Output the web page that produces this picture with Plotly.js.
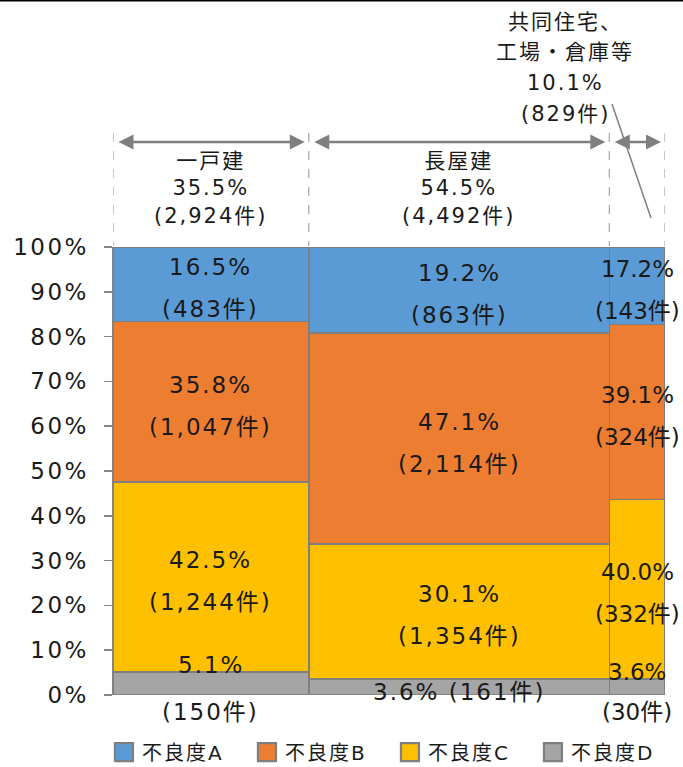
<!DOCTYPE html>
<html>
<head>
<meta charset="utf-8">
<script src="https://cdn.plot.ly/plotly-3.0.1.min.js"></script>
<style>
html,body{margin:0;padding:0;background:#fff;}
#chart{width:683px;height:767px;}
#chart svg text{letter-spacing:2px;}
#chart .ytick text{letter-spacing:2.5px;}
#chart .legendpoints path{transform:translate(22px,0) scale(1.5);}
</style>
</head>
<body>
<div id="chart"></div>
<script>
// ---- data ----
const buildings = ['一戸建', '長屋建', '共同住宅、<br>工場・倉庫等'];
const shares = [35.5, 54.5, 10.1];
const totals = [2924, 4492, 829];
const grades = ['不良度A', '不良度B', '不良度C', '不良度D'];
const pctA = [16.5, 19.2, 17.2];
const pctB = [35.8, 47.1, 39.1];
const pctC = [42.5, 30.1, 40.0];
const pctD = [5.1, 3.6, 3.6];
const cntA = [483, 863, 143];
const cntB = [1047, 2114, 324];
const cntC = [1244, 1354, 332];
const cntD = [150, 161, 30];
const yTicks = [0, 10, 20, 30, 40, 50, 60, 70, 80, 90, 100];

// ---- style ----
const colors = {'不良度A': '#5B9BD5', '不良度B': '#ED7D31', '不良度C': '#FFC000', '不良度D': '#A5A5A5'};
const FONT = 'DejaVu Sans, Noto Sans CJK JP, sans-serif';
const W = 683, H = 767;
const M = {l: 113, r: 18, t: 247, b: 72, autoexpand: false};
const plotH = H - M.t - M.b;
const plotW = W - M.l - M.r;
const py = p => (H - M.b - p) / plotH;          // pixel row -> paper y
const xTotal = shares.reduce((a, b) => a + b, 0);

const fmt = n => n.toLocaleString('en-US');

// x positions from shares
const lefts = [];
let acc = 0;
shares.forEach(s => { lefts.push(acc); acc += s; });
const centers = shares.map((s, i) => lefts[i] + s / 2);

// stacking order: bottom D, C, B, A
const stack = [
  {name: '不良度D', pct: pctD, cnt: cntD},
  {name: '不良度C', pct: pctC, cnt: cntC},
  {name: '不良度B', pct: pctB, cnt: cntB},
  {name: '不良度A', pct: pctA, cnt: cntA}
];

const traces = stack.map(s => ({
  type: 'bar',
  name: s.name,
  x: centers,
  y: s.pct,
  width: shares,
  marker: {color: colors[s.name], line: {color: '#7f7f7f', width: 1.5}},
  hoverinfo: 'skip'
}));

const annotations = [];
const tightIdx = [];   // narrow-column labels drawn without extra letter spacing
const lblFont = {family: FONT, size: 23, color: '#1a1a1a'};
const dInline = [false, true, false];
const bases = [0, 0, 0];
function addLabel(a, i) {
  if (i === shares.length - 1) tightIdx.push(annotations.length);
  annotations.push(a);
}
stack.forEach(s => {
  s.pct.forEach((v, i) => {
    const b = bases[i];
    const pctTxt = v.toFixed(1) + '%';
    const cntTxt = '(' + fmt(s.cnt[i]) + '件)';
    if (s.name === '不良度D') {
      if (dInline[i]) {
        addLabel({x: centers[i], y: b + v / 2, xref: 'x', yref: 'y', text: pctTxt + ' ' + cntTxt,
          showarrow: false, font: lblFont, yshift: -5}, i);
      } else {
        addLabel({x: centers[i], y: b + v, xref: 'x', yref: 'y', text: pctTxt,
          showarrow: false, font: lblFont, yshift: 7}, i);
        addLabel({x: centers[i], y: b, xref: 'x', yref: 'y', text: cntTxt,
          showarrow: false, font: lblFont, yshift: -17}, i);
      }
    } else {
      addLabel({x: centers[i], y: b + v / 2, xref: 'x', yref: 'y', text: pctTxt,
        showarrow: false, font: lblFont, yshift: 17}, i);
      addLabel({x: centers[i], y: b + v / 2, xref: 'x', yref: 'y', text: cntTxt,
        showarrow: false, font: lblFont, yshift: -25}, i);
    }
    bases[i] += v;
  });
});

// header labels
const hdrFont = {family: FONT, size: 21, color: '#1a1a1a'};
shares.forEach((s, i) => {
  const lines = buildings[i].split('<br>').concat([s.toFixed(1) + '%', '(' + fmt(totals[i]) + '件)']);
  if (i < 2) {
    annotations.push({x: centers[i], y: py(188), xref: 'x', yref: 'paper', text: lines.join('<br>'),
      showarrow: false, font: hdrFont, yanchor: 'middle'});
  } else {
    lines.forEach((t, k) => {
      annotations.push({x: (565 - M.l) / plotW * xTotal, y: py(22 + 30.5 * k), xref: 'x', yref: 'paper', text: t,
        showarrow: false, font: hdrFont, yanchor: 'middle'});
    });
  }
  // double-headed arrow spanning the column
  const inset = 4 / plotW * xTotal;
  annotations.push({x: lefts[i] + s - inset, y: py(142), xref: 'x', yref: 'paper',
    ax: lefts[i] + inset, ay: 0, axref: 'x', ayref: 'pixel', text: '', showarrow: true,
    arrowside: 'end+start', arrowhead: 2, arrowsize: 1.2, arrowwidth: 2.5, arrowcolor: '#7f7f7f'});
});

// dashed boundary lines
const shapes = [];
const bounds = lefts.concat([xTotal]);
bounds.forEach(bx => {
  shapes.push({type: 'line', xref: 'x', yref: 'paper', x0: bx, x1: bx, y0: py(133), y1: py(246),
    line: {color: '#a6a6a6', width: 1.2, dash: 'dash'}});
});
// leader line for the narrow column
shapes.push({type: 'line', xref: 'x', yref: 'paper',
  x0: (612 - M.l) / plotW * xTotal, y0: py(104), x1: (651 - M.l) / plotW * xTotal, y1: py(218),
  line: {color: '#7f7f7f', width: 1.5}});
// top rule
shapes.push({type: 'line', xref: 'paper', yref: 'paper', x0: -M.l / plotW, x1: 1 + M.r / plotW,
  y0: py(0.5), y1: py(0.5), line: {color: '#000', width: 2}});
// bottom axis line (0% tick extended across)
shapes.push({type: 'line', xref: 'paper', yref: 'y', x0: -8 / plotW, x1: 1, y0: 0, y1: 0,
  line: {color: '#868686', width: 1.5}});

const layout = {
  width: W, height: H,
  margin: M,
  paper_bgcolor: '#fff', plot_bgcolor: '#fff',
  barmode: 'stack',
  showlegend: true,
  legend: {orientation: 'h', traceorder: 'reversed', x: -0.02, xanchor: 'left', y: py(752), yanchor: 'middle',
    font: {family: FONT, size: 20, color: '#1a1a1a'}, entrywidth: 98, entrywidthmode: 'pixels', itemclick: false},
  xaxis: {range: [0, xTotal], showticklabels: false, ticks: '', showgrid: false, zeroline: false,
    showline: false, fixedrange: true},
  yaxis: {range: [0, 100], tickvals: yTicks, ticktext: yTicks.map(v => v + '%'), ticks: 'outside', ticklen: 8,
    tickcolor: '#868686', tickwidth: 1.5, showline: true, linecolor: '#868686', linewidth: 1.5,
    ticklabelstandoff: 10,
    showgrid: false, zeroline: false, tickfont: {family: FONT, size: 23, color: '#1a1a1a'}, fixedrange: true},
  annotations: annotations,
  shapes: shapes
};

Plotly.newPlot('chart', traces, layout, {displayModeBar: false, staticPlot: true}).then(gd => {
  gd.querySelectorAll('g.annotation').forEach(g => {
    const idx = +g.getAttribute('data-index');
    if (tightIdx.indexOf(idx) >= 0) {
      g.querySelectorAll('text').forEach(t => { t.style.letterSpacing = '0px'; });
    }
  });
});
</script>
</body>
</html>
